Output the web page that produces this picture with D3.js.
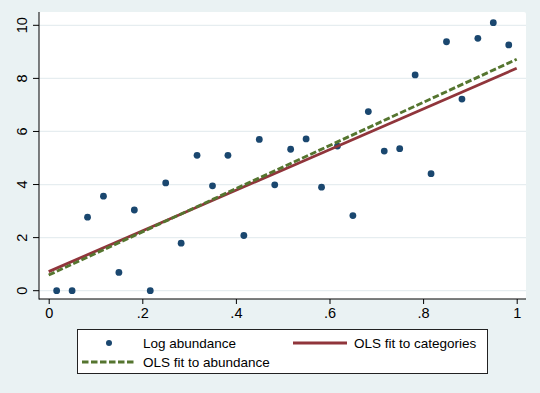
<!DOCTYPE html>
<html>
<head>
<meta charset="utf-8">
<script src="https://cdn.jsdelivr.net/npm/d3@7"></script>
<style>
  body { margin: 0; background: #eaf2f3; }
  svg { display: block; font-family: "Liberation Sans", Arial, sans-serif; }
  .axis text { font-size: 14.5px; fill: #000; }
  .axis line { stroke: #000; }
  .legend text { font-size: 13.5px; fill: #000; }
</style>
</head>
<body>
<div id="chart"></div>
<script>
// share of categories (x) and log abundance (y)
var xs = [0.017, 0.05, 0.083, 0.117, 0.15, 0.183, 0.217, 0.25, 0.283, 0.317,
          0.35, 0.383, 0.417, 0.45, 0.483, 0.517, 0.55, 0.583, 0.617, 0.65,
          0.683, 0.717, 0.75, 0.783, 0.817, 0.85, 0.883, 0.917, 0.95, 0.983]
var logAbund = [0, 0, 2.77, 3.56, 0.69, 3.04, 0, 4.06, 1.79, 5.1,
                3.95, 5.1, 2.08, 5.7, 3.99, 5.33, 5.72, 3.9, 5.45, 2.83,
                6.75, 5.26, 5.35, 8.13, 4.41, 9.38, 7.22, 9.51, 10.1, 9.26]

// fitted lines, endpoints at x = 0 and x = 1
var fitX = [0, 1]
var fitCategories = [0.72, 8.38]
var fitAbundance = [0.59, 8.72]

var xTicks = [0, 0.2, 0.4, 0.6, 0.8, 1]
var xTickLabels = ['0', '.2', '.4', '.6', '.8', '1']
var yTicks = [0, 2, 4, 6, 8, 10]

var navy = '#1a476f', maroon = '#90353b', green = '#55752f'

var W = 540, H = 393
var plot = {left: 39, top: 12, right: 526, bottom: 299}

var svg = d3.select('#chart').append('svg').attr('width', W).attr('height', H)

svg.append('rect').attr('width', W).attr('height', H).attr('fill', '#eaf2f3')
svg.append('rect')
  .attr('x', plot.left).attr('y', plot.top)
  .attr('width', plot.right - plot.left).attr('height', plot.bottom - plot.top)
  .attr('rx', 2).attr('fill', '#fff')

var x = d3.scaleLinear().domain([0, 1]).range([48.7, 516.7])
var y = d3.scaleLinear().domain([0, 10]).range([290.7, 25.3])

// gridlines
svg.append('g').selectAll('line').data(yTicks).join('line')
  .attr('x1', plot.left).attr('x2', plot.right)
  .attr('y1', d => y(d)).attr('y2', d => y(d))
  .attr('stroke', '#e6edf0').attr('stroke-width', 1.3)

// axes
var yAxis = svg.append('g').attr('class', 'axis')
  .attr('transform', 'translate(' + plot.left + ',0)')
  .call(d3.axisLeft(y).tickValues(yTicks).tickSize(6).tickPadding(5))
yAxis.select('.domain').remove()
yAxis.selectAll('text')
  .attr('transform', 'rotate(-90)')
  .attr('x', d => -y(d)).attr('y', -16)
  .attr('dy', 0)
  .attr('text-anchor', 'middle')
  .attr('dominant-baseline', 'middle')
yAxis.selectAll('.tick').attr('transform', null)
yAxis.selectAll('.tick line').attr('y1', d => y(d)).attr('y2', d => y(d))

var xAxis = svg.append('g').attr('class', 'axis')
  .attr('transform', 'translate(0,' + plot.bottom + ')')
  .call(d3.axisBottom(x).tickValues(xTicks).tickFormat((d, i) => xTickLabels[i]).tickSize(5).tickPadding(4))
xAxis.select('.domain').remove()

svg.append('line').attr('x1', plot.left).attr('x2', plot.left)
  .attr('y1', plot.top).attr('y2', plot.bottom + 0.5).attr('stroke', '#000')
svg.append('line').attr('x1', plot.left).attr('x2', plot.right)
  .attr('y1', plot.bottom).attr('y2', plot.bottom).attr('stroke', '#000')

// points
svg.append('g').selectAll('circle').data(xs).join('circle')
  .attr('cx', d => x(d)).attr('cy', (d, i) => y(logAbund[i]))
  .attr('r', 3.4).attr('fill', navy)

// fit lines
var line = d3.line().x(d => x(d[0])).y(d => y(d[1]))
svg.append('path').attr('d', line(d3.zip(fitX, fitCategories)))
  .attr('fill', 'none').attr('stroke', maroon).attr('stroke-width', 2.8)
svg.append('path').attr('d', line(d3.zip(fitX, fitAbundance)))
  .attr('fill', 'none').attr('stroke', green).attr('stroke-width', 2.9)
  .attr('stroke-dasharray', '6.5,2.5')

// legend
var lg = svg.append('g').attr('class', 'legend')
lg.append('rect').attr('x', 77.5).attr('y', 329.5).attr('width', 410).attr('height', 44)
  .attr('fill', '#fff').attr('stroke', '#222').attr('stroke-width', 1)
lg.append('circle').attr('cx', 109).attr('cy', 343).attr('r', 3).attr('fill', navy)
lg.append('text').attr('x', 143).attr('y', 343).attr('dy', '0.35em').text('Log abundance')
lg.append('line').attr('x1', 293).attr('x2', 347).attr('y1', 343).attr('y2', 343)
  .attr('stroke', maroon).attr('stroke-width', 2.8)
lg.append('text').attr('x', 354).attr('y', 343).attr('dy', '0.35em').text('OLS fit to categories')
lg.append('line').attr('x1', 82).attr('x2', 136).attr('y1', 362).attr('y2', 362)
  .attr('stroke', green).attr('stroke-width', 2.9).attr('stroke-dasharray', '6.5,2.5')
lg.append('text').attr('x', 143).attr('y', 362).attr('dy', '0.35em').text('OLS fit to abundance')
</script>
</body>
</html>
